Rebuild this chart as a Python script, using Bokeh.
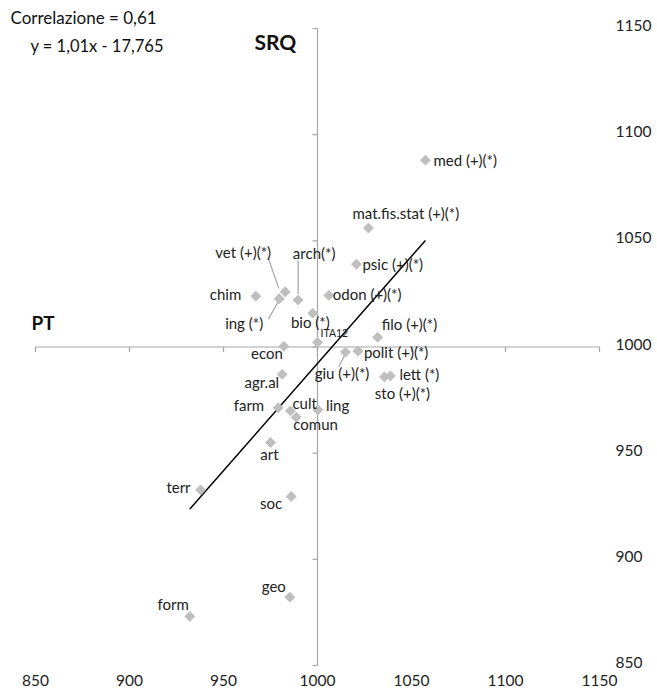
import math
from bokeh.plotting import figure
from bokeh.models import ColumnDataSource, Label
from bokeh.core.properties import value
from bokeh.embed import file_html
from bokeh.resources import INLINE

# ---- data ----
names = ["med (+)(*)", "mat.fis.stat (+)(*)", "psic (+)(*)", "odon (+)(*)", "filo (+)(*)",
         "polit (+)(*)", "giu (+)(*)", "lett (*)", "sto (+)(*)", "ITA12", "bio (*)", "arch(*)",
         "vet (+)(*)", "ing (*)", "chim", "econ", "agr.al", "farm", "cult", "comun", "ling",
         "art", "terr", "soc", "geo", "form"]
pt = [1057.4, 1027.1, 1020.7, 1006.0, 1032.0, 1021.5, 1014.9, 1038.8, 1035.6, 1000.0,
      997.5, 989.7, 982.8, 979.6, 967.2, 982.1, 981.2, 979.1, 985.6, 988.7, 1000.2,
      975.0, 937.8, 986.0, 985.3, 932.1]
srq = [1088.0, 1056.0, 1039.0, 1024.3, 1004.6, 998.1, 997.6, 986.4, 985.9, 1002.2,
       1015.9, 1022.1, 1026.0, 1022.7, 1023.9, 1000.3, 987.1, 971.4, 969.9, 966.9, 970.4,
       955.0, 932.7, 929.6, 882.2, 873.1]
slope = 1.01
intercept = -17.765
ticks = [850, 900, 950, 1000, 1050, 1100, 1150]
tick_labels = ["850", "900", "950", "1000", "1050", "1100", "1150"]

# ---- label styling (screen pixel offsets) ----
lab_align = ["left", "left", "left", "left", "left", "left", "center", "left", "center", "left",
             "center", "center", "center", "center", "right", "right", "right", "right", "left",
             "left", "left", "center", "right", "right", "right", "right"]
lab_dx = [8, -16, 6, 4, 4, 6, -3.5, 9, 18, 3, -2.5, 16, -42, -35, -14.6, -1, -3, -14, 2, -3, 8,
          -1, -10, -9, -4, -1]
lab_dy = [0, -15, 0, -1, -13, 1, 21, -2, 16, -9, 8.5, -47, -40, 24, -2, 7, 8, -3, -8, 7, -5,
          11, -3, 7, -11, -12]
leaders = [("arch(*)", 0, -40, 0, -6), ("vet (+)(*)", -17, -34, -6.4, -3.4),
           ("ing (*)", -10.7, 20.3, -1, 3), ("giu (+)(*)", 0, 1.5, -6.7, 14.7)]

FONT = "Lato"
X0, X1, Y0, Y1 = 850, 1150, 850, 1150
W, H = 652, 692
# pixel positions of the plotting area in the canvas
PL, PR, PT_, PB = 35, 599, 28, 665
kx = (PR - PL) / (X1 - X0)
ky = (PB - PT_) / (Y1 - Y0)
xs = X0 - PL / kx
xe = X1 + (W - PR) / kx
ye = Y1 + PT_ / ky
ys = Y0 - (H - PB) / ky

def px2data(xp, yp):
    return xs + xp / kx, ye - yp / ky

p = figure(width=W, height=H, x_range=(xs, xe), y_range=(ys, ye),
           output_backend="svg", toolbar_location=None, min_border=0)
p.outline_line_color = None
p.grid.visible = False
p.axis.visible = False
p.background_fill_color = "white"
p.border_fill_color = "white"

axis_col = "#A6A6A6"
# crossing axes at 1000
p.line(x=[min(ticks), max(ticks)], y=[1000, 1000], line_color=axis_col, line_width=1.2)
p.line(x=[1000, 1000], y=[min(ticks), max(ticks)], line_color=axis_col, line_width=1.2)
tl = 5
p.segment(x0=ticks, y0=[1000] * len(ticks), x1=ticks, y1=[1000 - tl / ky] * len(ticks),
          line_color=axis_col, line_width=1.2)
p.segment(x0=[1000] * len(ticks), y0=ticks, x1=[1000 - tl / kx] * len(ticks), y1=ticks,
          line_color=axis_col, line_width=1.2)

# tick labels (bottom and right)
p.text(x=ticks, y=[Y0] * len(ticks), text=tick_labels, y_offset=15, text_align="center",
       text_baseline="middle", text_font=value(FONT), text_font_size="15.5px",
       text_color="#222222")
p.text(x=[X1] * len(ticks), y=ticks, text=tick_labels, x_offset=16, y_offset=-3,
       text_align="left", text_baseline="middle", text_font=value(FONT),
       text_font_size="15.5px", text_color="#222222")

# leader lines
lx0, ly0, lx1, ly1 = [], [], [], []
for nm, sx, sy, ex, ey in leaders:
    i = names.index(nm)
    lx0.append(pt[i] + sx / kx); ly0.append(srq[i] - sy / ky)
    lx1.append(pt[i] + ex / kx); ly1.append(srq[i] - ey / ky)
p.segment(x0=lx0, y0=ly0, x1=lx1, y1=ly1, line_color="#A6A6A6", line_width=1.2)

# regression line
xmin, xmax = min(pt), max(pt)
p.line(x=[xmin, xmax], y=[slope * xmin + intercept, slope * xmax + intercept],
       line_color="black", line_width=1.5)

# points
p.scatter(x=pt, y=srq, marker="square", size=7, angle=math.pi / 4,
          fill_color="#BFBFBF", line_color="#BFBFBF")

# labels
for al in ("left", "center", "right"):
    idx = [i for i in range(len(names)) if lab_align[i] == al]
    src = ColumnDataSource(dict(
        x=[pt[i] for i in idx], y=[srq[i] for i in idx], t=[names[i] for i in idx],
        dx=[lab_dx[i] for i in idx], dy=[lab_dy[i] for i in idx],
        fs=["10.5px" if names[i] == "ITA12" else "15px" for i in idx]))
    p.text(x="x", y="y", text="t", x_offset="dx", y_offset="dy", source=src,
           text_align=al, text_baseline="middle", text_font=value(FONT),
           text_font_size="fs", text_color="#222222")

def add_label(txt, xp, yp, size, bold=False):
    x, y = px2data(xp, yp)
    p.add_layout(Label(x=x, y=y, text=txt, text_font=FONT, text_font_size=size,
                       text_baseline="middle", text_align="left",
                       text_font_style="bold" if bold else "normal",
                       text_color="#111111"))

add_label("Correlazione = 0,61", 10, 17, "17px")
add_label("y = 1,01x - 17,765", 30, 45, "16.5px")
add_label("SRQ", 254, 41, "21px", bold=True)
add_label("PT", 31, 322, "19px", bold=True)

open("out.html", "w").write(file_html(p, INLINE))
